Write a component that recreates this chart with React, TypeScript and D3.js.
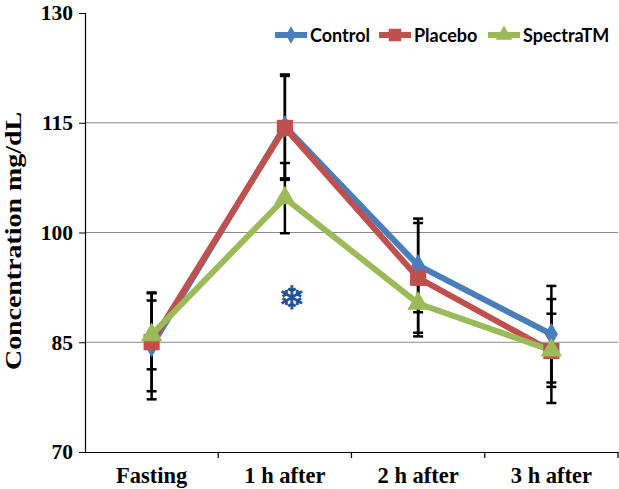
import { useEffect, useRef } from "react";
import * as d3 from "d3";

const categories = ["Fasting", "1 h after", "2 h after", "3 h after"];
const seriesNames = ["Control", "Placebo", "SpectraTM"];
const controlMean = [84.5, 114.5, 95.5, 86.1];
const controlSd = [7.3, 7.1, 6.4, 6.6];
const placeboMean = [85.0, 114.3, 93.8, 83.8];
const placeboSd = [6.7, 7.1, 7.5, 7.1];
const spectraMean = [86.0, 104.7, 90.3, 83.9];
const spectraSd = [4.7, 4.8, 4.5, 5.0];
const yTicks = [70, 85, 100, 115, 130];

const colors = ["#4a7ebb", "#c0504d", "#9bbb59"];

const App = () => {
  const ref = useRef<SVGSVGElement>(null);

  useEffect(() => {
    const width = 619;
    const height = 489;
    const left = 85;
    const right = 618;
    const top = 13;
    const bottom = 452;
    const serif = "Liberation Serif, Times New Roman, serif";

    const svg = d3.select(ref.current);
    svg.selectAll("*").remove();

    const x = d3.scaleBand().domain(categories).range([left, right]);
    const y = d3.scaleLinear().domain([70, 130]).range([bottom, top]);
    const cx = (c: string) => x(c)! + x.bandwidth() / 2;

    // grid
    svg
      .append("g")
      .selectAll("line")
      .data(yTicks.filter((t) => t > 70 && t < 130))
      .join("line")
      .attr("x1", left)
      .attr("x2", right)
      .attr("y1", (d) => y(d))
      .attr("y2", (d) => y(d))
      .attr("stroke", "#8c8c8c")
      .attr("stroke-width", 1);

    // y axis
    svg
      .append("g")
      .attr("transform", `translate(${left},0)`)
      .call(d3.axisLeft(y).tickValues(yTicks).tickSize(6).tickFormat(d3.format("d")))
      .call((g) => {
        g.select(".domain").attr("stroke", "#000").attr("stroke-width", 1.2);
        g.selectAll(".tick line").attr("stroke", "#000");
        g.selectAll(".tick text")
          .attr("font-family", serif)
          .attr("font-weight", "bold")
          .attr("font-size", 21.5)
          .attr("fill", "#000")
          .attr("x", -12);
      });

    // x axis
    svg
      .append("g")
      .attr("transform", `translate(0,${bottom})`)
      .call(d3.axisBottom(x).tickSize(0))
      .call((g) => {
        g.select(".domain").attr("stroke", "#000").attr("stroke-width", 1.2);
        g.selectAll(".tick text")
          .attr("font-family", serif)
          .attr("font-weight", "bold")
          .attr("font-size", 22.5)
          .attr("fill", "#000")
          .attr("y", 15);
      });
    svg
      .append("g")
      .selectAll("line")
      .data(categories)
      .join("line")
      .attr("x1", (d) => x(d)! + x.bandwidth())
      .attr("x2", (d) => x(d)! + x.bandwidth())
      .attr("y1", bottom)
      .attr("y2", bottom + 6)
      .attr("stroke", "#000")
      .attr("stroke-width", 1.2);

    svg
      .append("text")
      .attr("transform", `translate(21,${241}) rotate(-90)`)
      .attr("text-anchor", "middle")
      .attr("font-family", serif)
      .attr("font-weight", "bold")
      .attr("font-size", 24)
      .attr("textLength", 258)
      .attr("lengthAdjust", "spacingAndGlyphs")
      .text("Concentration mg/dL");

    const means = [controlMean, placeboMean, spectraMean];
    const sds = [controlSd, placeboSd, spectraSd];

    // error bars
    means.forEach((m, si) => {
      const g = svg.append("g");
      categories.forEach((c, i) => {
        const hi = y(m[i] + sds[si][i]);
        const lo = y(m[i] - sds[si][i]);
        const px = cx(c);
        g.append("line").attr("x1", px).attr("x2", px).attr("y1", hi).attr("y2", lo)
          .attr("stroke", "#000").attr("stroke-width", 2.5);
        [hi, lo].forEach((yy) =>
          g.append("line").attr("x1", px - 5).attr("x2", px + 5).attr("y1", yy).attr("y2", yy)
            .attr("stroke", "#000").attr("stroke-width", 2.5)
        );
      });
    });

    const line = d3
      .line<number>()
      .x((_, i) => cx(categories[i]))
      .y((d) => y(d));

    const symbols = [d3.symbolDiamond, d3.symbolSquare, d3.symbolTriangle];
    const sizes = [150, 260, 200];

    means.forEach((m, si) => {
      svg
        .append("path")
        .datum(m)
        .attr("d", line)
        .attr("fill", "none")
        .attr("stroke", colors[si])
        .attr("stroke-width", 6)
        .attr("stroke-linejoin", "round");
    });
    means.forEach((m, si) => {
      svg
        .append("g")
        .selectAll("path")
        .data(m)
        .join("path")
        .attr("transform", (d, i) => `translate(${cx(categories[i])},${y(d)})`)
        .attr("d", d3.symbol().type(symbols[si]).size(sizes[si])())
        .attr("fill", colors[si]);
    });

    // significance mark
    svg
      .append("text")
      .attr("x", cx(categories[1]) + 7)
      .attr("y", y(91))
      .attr("text-anchor", "middle")
      .attr("dominant-baseline", "central")
      .attr("font-family", "DejaVu Sans, sans-serif")
      .attr("font-size", 32)
      .attr("fill", "#1d4f9e")
      .attr("stroke", "#1d4f9e")
      .attr("stroke-width", 0.8)
      .text("❄");

    // legend
    const legendX = [275, 379, 488];
    const legendY = 35;
    const lg = svg.append("g");
    seriesNames.forEach((name, i) => {
      lg.append("line")
        .attr("x1", legendX[i])
        .attr("x2", legendX[i] + 32)
        .attr("y1", legendY)
        .attr("y2", legendY)
        .attr("stroke", colors[i])
        .attr("stroke-width", 6);
      lg.append("path")
        .attr("transform", `translate(${legendX[i] + 16},${legendY})`)
        .attr("d", d3.symbol().type(symbols[i]).size(sizes[i] * 0.6)())
        .attr("fill", colors[i]);
      lg.append("text")
        .attr("x", legendX[i] + 35)
        .attr("y", legendY + 6.5)
        .attr("font-family", "Lato, Open Sans, sans-serif")
        .attr("font-weight", "bold")
        .attr("font-size", 18)
        .attr("fill", "#000")
        .text(name);
    });

    svg.attr("width", width).attr("height", height);
  }, []);

  return (
    <svg
      ref={ref}
      width={619}
      height={489}
      style={{ position: "absolute", left: 0, top: 0, background: "#fff" }}
    />
  );
};

export default App;
